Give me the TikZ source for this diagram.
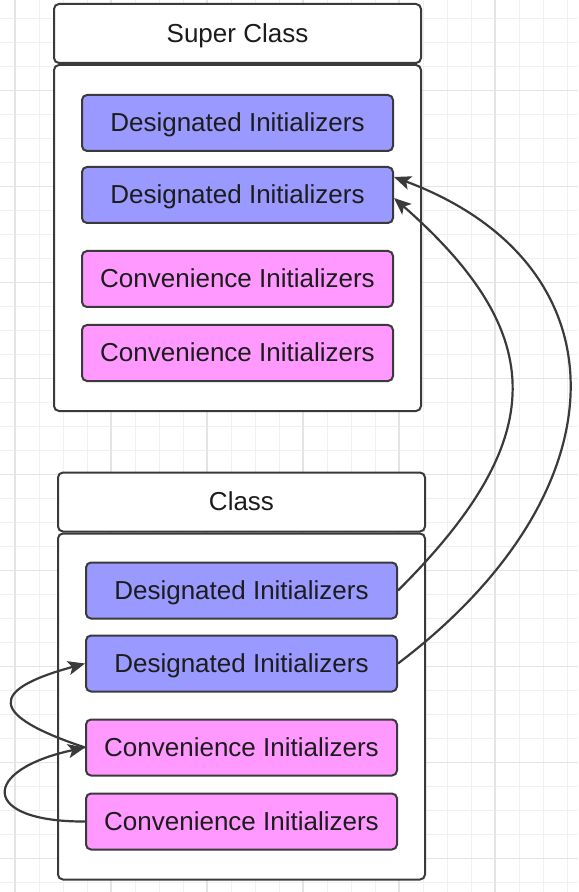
\documentclass[tikz,border=0pt]{standalone}
\usepackage{fontspec}
\setmainfont{Liberation Sans}
\usetikzlibrary{positioning,arrows.meta}

\definecolor{desigblue}{HTML}{9999FF}
\definecolor{convpink}{HTML}{FF99FF}
\definecolor{edgegray}{HTML}{3A3A3A}
\definecolor{textgray}{HTML}{1C1C1C}
\definecolor{gridminor}{HTML}{F0F0F0}
\definecolor{gridmajor}{HTML}{E4E4E4}

\tikzset{
	gridline/.style={draw=gridminor,line width=0.5pt},
	gridbold/.style={draw=gridmajor,line width=0.6pt},
	header/.style={draw=edgegray,fill=white,line width=1pt,rounded corners=2.5pt,minimum width=183.5pt,minimum height=29.5pt,font=\fontsize{13}{15}\selectfont,text=textgray,text height=8.7pt,text depth=0pt},
	frame/.style={header,minimum height=173pt},
	initbox/.style={draw=edgegray,line width=1pt,rounded corners=2.5pt,minimum width=155.5pt,minimum height=28pt,font=\fontsize{13}{15}\selectfont,text=textgray,text height=8.7pt,text depth=0pt},
	desig/.style={initbox,fill=desigblue},
	conv/.style={initbox,fill=convpink},
	link/.style={draw=edgegray,line width=1.1pt,-{Stealth[length=8.5pt,width=7pt,inset=2pt]}}
}

\begin{document}
\begin{tikzpicture}[x=0.5pt,y=-0.5pt]
	\useasboundingbox (0,0) rectangle (578,892);
	% background grid
	\foreach \gx in {15,39,...,567} \draw [gridline] (\gx,0) -- (\gx,892);
	\foreach \gy in {18.5,42.5,...,882.5} \draw [gridline] (0,\gy) -- (578,\gy);
	\foreach \gx in {15,111,...,495} \draw [gridbold] (\gx,0) -- (\gx,892);
	\foreach \gy in {90.5,186.5,...,858.5} \draw [gridbold] (0,\gy) -- (578,\gy);

	% super class
	\node (superhead) [header] at (237.5,33.5) {Super Class};
	\node (superbody) [frame,below=0pt of superhead] {};
	\node (superdes1) [desig,below=15pt of superbody.north] {Designated Initializers};
	\node (superdes2) [desig,below=7pt of superdes1] {Designated Initializers};
	\node (superconv1) [conv,below=13pt of superdes2] {Convenience Initializers};
	\node (superconv2) [conv,below=8pt of superconv1] {Convenience Initializers};

	% class
	\node (classhead) [header] at (241.5,502) {Class};
	\node (classbody) [frame,below=0pt of classhead] {};
	\node (classdes1) [desig,below=14.5pt of classbody.north] {Designated Initializers};
	\node (classdes2) [desig,below=7.5pt of classdes1] {Designated Initializers};
	\node (classconv1) [conv,below=13pt of classdes2] {Convenience Initializers};
	\node (classconv2) [conv,below=8pt of classconv1] {Convenience Initializers};

	\draw [link] (classdes1.east) .. controls (550,439) and (550,335) .. ([yshift=-1.5pt]superdes2.east);
	\draw [link] (classdes2.east) .. controls (627,490) and (627,264) .. ([yshift=9pt]superdes2.east);
	\draw [link] (classconv1.west) .. controls (-12,715) and (-12,690) .. (classdes2.west);
	\draw [link] (classconv2.west) .. controls (-20,822) and (-20,770) .. (classconv1.west);
\end{tikzpicture}
\end{document}
